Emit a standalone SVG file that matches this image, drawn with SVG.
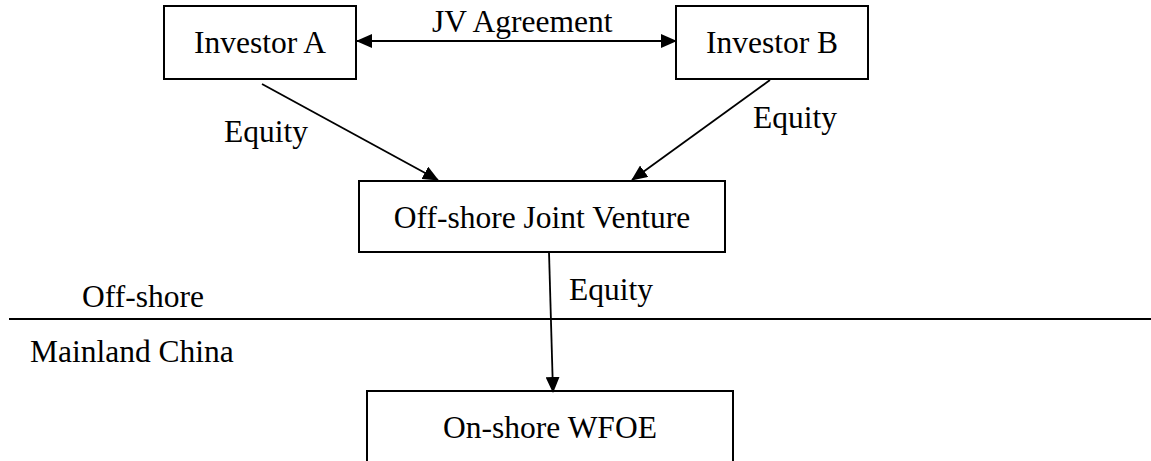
<svg xmlns="http://www.w3.org/2000/svg" width="1151" height="461" viewBox="0 0 1151 461">
<style>
.box{fill:#fff;stroke:#000;stroke-width:2}
.t{font-family:"Liberation Serif","Times New Roman",serif;font-size:31.5px;fill:#000}
.c{text-anchor:middle}
.ln{stroke:#000;stroke-width:1.8;fill:none}
</style>
<defs>
<marker id="ah" markerWidth="16" markerHeight="14" refX="15" refY="7" orient="auto" markerUnits="userSpaceOnUse">
<path d="M0,0 L16,7 L0,14 Z" fill="#000"/>
</marker>
<marker id="as" markerWidth="16" markerHeight="14" refX="1" refY="7" orient="auto" markerUnits="userSpaceOnUse">
<path d="M16,0 L0,7 L16,14 Z" fill="#000"/>
</marker>
</defs>
<g id="investor-a"><rect class="box" x="164" y="6" width="192" height="73"/><text class="t c" x="260" y="53">Investor A</text></g>
<g id="investor-b"><rect class="box" x="676" y="6" width="192" height="73"/><text class="t c" x="772" y="53">Investor B</text></g>
<g id="jv"><rect class="box" x="359" y="181" width="366" height="71"/><text class="t c" x="542" y="228">Off-shore Joint Venture</text></g>
<g id="wfoe"><rect class="box" x="367" y="391" width="366" height="80"/><text class="t c" x="550" y="438">On-shore WFOE</text></g>
<g id="connectors">
<line class="ln" x1="357" y1="41" x2="676" y2="41" marker-start="url(#as)" marker-end="url(#ah)"/>
<line class="ln" x1="262" y1="84" x2="438" y2="180" marker-end="url(#ah)"/>
<line class="ln" x1="770" y1="80" x2="632" y2="180" marker-end="url(#ah)"/>
<line class="ln" x1="549" y1="252" x2="553" y2="392" marker-end="url(#ah)"/>
</g>
<line x1="9" y1="319" x2="1151" y2="319" stroke="#000" stroke-width="2"/>
<g id="labels">
<text class="t" x="432" y="32">JV Agreement</text>
<text class="t" x="224" y="142">Equity</text>
<text class="t" x="753" y="128">Equity</text>
<text class="t" x="569" y="300">Equity</text>
<text class="t" x="82" y="307">Off-shore</text>
<text class="t" x="30" y="362">Mainland China</text>
</g>
</svg>
